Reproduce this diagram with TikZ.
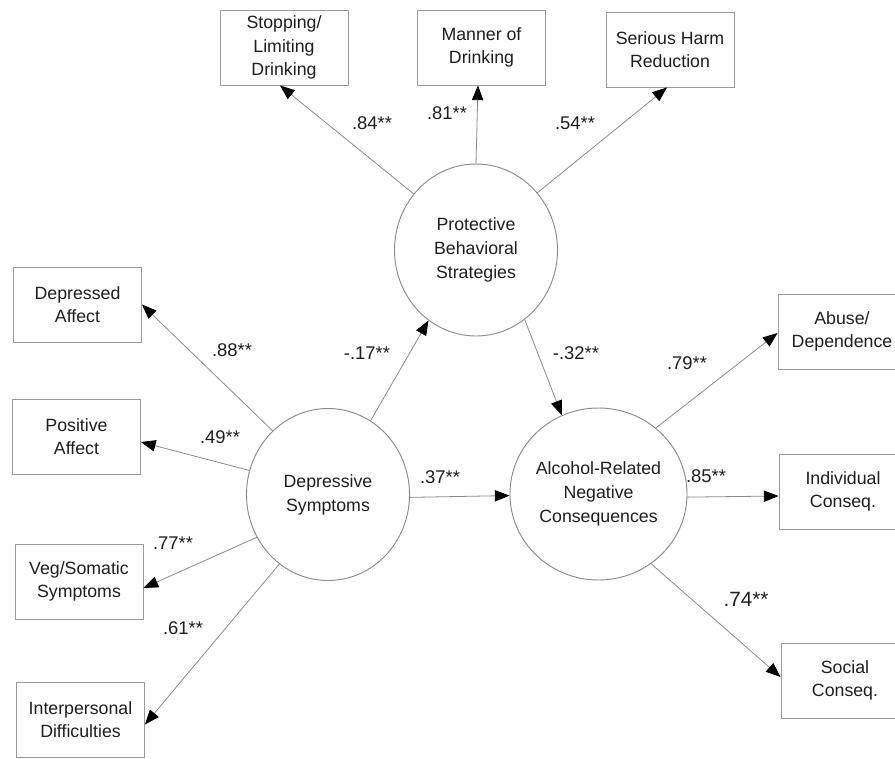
\documentclass[tikz,border=0pt]{standalone}
\usepackage{fontspec}
\setmainfont{Liberation Sans}
\usetikzlibrary{arrows.meta,shapes.geometric,calc}
\definecolor{txt}{HTML}{1E1E1E}
\definecolor{ln}{HTML}{8A8A8A}
\definecolor{bd}{HTML}{9A9A9A}
\begin{document}
\begin{tikzpicture}[x=0.75pt,y=-0.75pt,
  box/.style={draw=bd,line width=0.7pt,minimum width=96pt,minimum height=56.25pt,inner sep=0pt,align=center,text=txt,font=\fontsize{13.3}{17.5}\selectfont},
  lat/.style={ellipse,draw=ln,line width=0.7pt,minimum width=122.25pt,minimum height=129pt,inner sep=0pt,align=center,text=txt,font=\fontsize{13.3}{18}\selectfont},
  conn/.style={draw=ln,line width=0.6pt,-{Triangle[length=11pt,width=8.5pt,color=black]}},
  lbl/.style={text=txt,font=\fontsize{13.8}{16}\selectfont,inner sep=0pt}]
\useasboundingbox (0,0) rectangle (895,758);
\clip (0,0) rectangle (895,758);
\fill[white] (0,0) rectangle (895,758);

% latent variables
\node[lat] (Prot) at (476,250) {Protective\\Behavioral\\Strategies};
\node[lat] (Dep) at (328,494.5) {Depressive\\Symptoms};
\node[lat] (Alc) at (598.5,494) {Alcohol-Related\\Negative\\Consequences};

% indicators
\node[box] (SL) at (284,47.5) {Stopping/\\Limiting\\Drinking};
\node[box] (MD) at (481.5,47.5) {Manner of\\Drinking};
\node[box] (SH) at (670,49.5) {Serious Harm\\Reduction};
\node[box] (DA) at (77.5,304.5) {Depressed\\Affect};
\node[box] (PA) at (76.5,436.5) {Positive\\Affect};
\node[box] (VS) at (79,581.5) {Veg/Somatic\\Symptoms};
\node[box] (ID) at (80.5,719.5) {Interpersonal\\Difficulties};
\node[box] (AD) at (842,331.5) {Abuse/\\Dependence};
\node[box] (IC) at (843,491.5) {Individual\\Conseq.};
\node[box] (SC) at (845,680.5) {Social\\Conseq.};

% connectors
\draw[conn] (Prot.138) -- ($(SL.south)+(-4,0)$);
\draw[conn] (Prot.north) -- ($(MD.south)+(-3.5,0)$);
\draw[conn] (Prot.43) -- ($(SH.south)+(-3,0)$);
\draw[conn] (Dep.131) -- (DA.east);
\draw[conn] (Dep.163) -- ($(PA.east)+(0,5.5)$);
\draw[conn] (Dep.211) -- ($(VS.east)+(0,6.5)$);
\draw[conn] (Dep.235) -- ($(ID.east)+(0,5)$);
\draw[conn] (Dep.60) -- (Prot.236);
\draw[conn] (Prot.-55) -- (Alc.115);
\draw[conn] (Dep.-2) -- (Alc.181);
\draw[conn] (Alc.49) -- ($(AD.west)+(0,1.5)$);
\draw[conn] (Alc.-2) -- ($(IC.west)+(0,4.5)$);
\draw[conn] (Alc.-53) -- ($(SC.west)+(0,-3.5)$);

% path coefficients
\node[lbl] (l84) at (372,123) {.84**};
\node[lbl] (l81) at (447,113) {.81**};
\node[lbl] (l54) at (575,123) {.54**};
\node[lbl] (l17) at (367,353) {-.17**};
\node[lbl] (l32) at (576,353) {-.32**};
\node[lbl] (l88) at (232,350) {.88**};
\node[lbl] (l49) at (220,437) {.49**};
\node[lbl] (l37) at (440,477) {.37**};
\node[lbl] (l77) at (173,543) {.77**};
\node[lbl] (l61) at (183,628) {.61**};
\node[lbl] (l79) at (687,363) {.79**};
\node[lbl] (l85) at (706,476) {.85**};
\node[lbl,font=\fontsize{15.5}{18}\selectfont] (l74) at (746,599) {.74**};
\end{tikzpicture}
\end{document}
